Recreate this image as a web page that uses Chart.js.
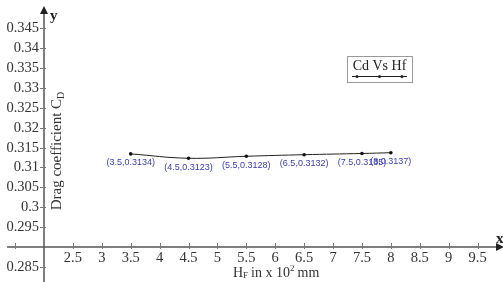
<!DOCTYPE html>
<html><head><meta charset="utf-8">
<script src="https://cdn.jsdelivr.net/npm/chart.js@4.4.1/dist/chart.umd.min.js"></script>
<style>html,body{margin:0;padding:0;background:#fff;}#wrap{width:503px;height:282px;position:relative;}</style>
</head><body><div id="wrap"><canvas id="c"></canvas></div>
<script>
const xValues = [3.5, 4.5, 5.5, 6.5, 7.5, 8];
const cdValues = [0.3134, 0.3123, 0.3128, 0.3132, 0.3135, 0.3137];
const pointLabels = ['(3.5,0.3134)', '(4.5,0.3123)', '(5.5,0.3128)', '(6.5,0.3132)', '(7.5,0.3135)', '(8,0.3137)'];
const xTickLabels = ['2.5','3','3.5','4','4.5','5','5.5','6','6.5','7','7.5','8','8.5','9','9.5'];
const yTickLabels = ['0.285','0.295','0.3','0.305','0.31','0.315','0.32','0.325','0.33','0.335','0.34','0.345'];
const seriesName = 'Cd Vs Hf';
const xTitle = 'H';
const yTitle = 'Drag coefficient C';

const AX = 2, AY = 0.29;

const axesPlugin = {
  id: 'axesPlugin',
  beforeDatasetsDraw(chart) {
    const ctx = chart.ctx, xs = chart.scales.x, ys = chart.scales.y;
    const ox = Math.round(xs.getPixelForValue(AX)), oy = Math.round(ys.getPixelForValue(AY));
    ctx.save();
    ctx.strokeStyle = '#555'; ctx.fillStyle = '#222'; ctx.lineWidth = 1.5;
    // y axis
    ctx.beginPath(); ctx.moveTo(ox, chart.height); ctx.lineTo(ox, 12); ctx.stroke();
    ctx.beginPath(); ctx.moveTo(ox, 6); ctx.lineTo(ox-4, 14); ctx.lineTo(ox+4, 14); ctx.closePath(); ctx.fill();
    // x axis
    ctx.beginPath(); ctx.moveTo(7, oy); ctx.lineTo(chart.width-6, oy); ctx.stroke();
    ctx.beginPath(); ctx.moveTo(chart.width+1, oy); ctx.lineTo(chart.width-7, oy-4); ctx.lineTo(chart.width-7, oy+4); ctx.closePath(); ctx.fill();
    ctx.lineWidth = 1; ctx.strokeStyle = '#777';
    // y ticks
    ctx.font = '14.5px "Liberation Serif"'; ctx.textAlign = 'right'; ctx.textBaseline = 'middle'; ctx.fillStyle = '#333';
    yTickLabels.forEach(t => {
      const py = Math.round(ys.getPixelForValue(parseFloat(t))) + 0.5;
      ctx.beginPath(); ctx.moveTo(ox-4, py); ctx.lineTo(ox+2, py); ctx.stroke();
      ctx.fillText(t, ox-5, py);
    });
    // x ticks
    ctx.textAlign = 'center';
    const tx = [1.5].concat(xTickLabels.map(parseFloat));
    tx.forEach(v => {
      const px = Math.round(xs.getPixelForValue(v)) + 0.5;
      ctx.beginPath(); ctx.moveTo(px, oy-4); ctx.lineTo(px, oy+2); ctx.stroke();
    });
    xTickLabels.forEach(t => {
      const px = xs.getPixelForValue(parseFloat(t));
      ctx.fillText(t, px, oy+11);
    });
    // axis letters
    ctx.font = 'bold 15px "Liberation Serif"'; ctx.fillStyle = '#222';
    ctx.textAlign = 'left';
    ctx.fillText('y', ox+6, 16);
    ctx.fillText('x', chart.width-7, oy-8);
    // x title
    ctx.font = '14px "Liberation Serif"'; ctx.fillStyle = '#333';
    ctx.textAlign = 'left';
    let sx = 233, sy = 273;
    ctx.fillText(xTitle, sx, sy); sx += ctx.measureText(xTitle).width;
    ctx.font = '9px "Liberation Serif"'; ctx.fillText('F', sx, sy+3); sx += ctx.measureText('F').width + 3;
    ctx.font = '14px "Liberation Serif"'; const s1 = 'in x 10'; ctx.fillText(s1, sx, sy); sx += ctx.measureText(s1).width;
    ctx.font = '9px "Liberation Serif"'; ctx.fillText('2', sx, sy-4); sx += ctx.measureText('2').width + 3;
    ctx.font = '14px "Liberation Serif"'; ctx.fillText('mm', sx, sy);
    // y title rotated
    ctx.save();
    ctx.translate(61, 151); ctx.rotate(-Math.PI/2);
    ctx.font = '15px "Liberation Serif"';
    const w1 = ctx.measureText(yTitle).width;
    ctx.font = '10px "Liberation Serif"';
    const w2 = ctx.measureText('D').width;
    let st = -(w1+w2)/2;
    ctx.font = '15px "Liberation Serif"'; ctx.textAlign = 'left'; ctx.textBaseline = 'alphabetic';
    ctx.fillText(yTitle, st, 0);
    ctx.font = '10px "Liberation Serif"'; ctx.fillText('D', st+w1, 3);
    ctx.restore();
    ctx.restore();
  },
  afterDatasetsDraw(chart) {
    const ctx = chart.ctx;
    const meta = chart.getDatasetMeta(0);
    ctx.save();
    ctx.font = '9px "Liberation Sans Narrow", "Liberation Sans"';
    ctx.fillStyle = '#3b3bbd'; ctx.textAlign = 'center'; ctx.textBaseline = 'middle';
    meta.data.forEach((p, i) => { ctx.fillText(pointLabels[i], p.x, p.y + 9); });
    // legend
    const bx = 347, by = 56, bw = 65, bh = 26;
    ctx.fillStyle = '#fff'; ctx.fillRect(bx, by, bw, bh);
    ctx.strokeStyle = '#999'; ctx.lineWidth = 1; ctx.strokeRect(bx+0.5, by+0.5, bw, bh);
    ctx.font = '14px "Liberation Serif"'; ctx.fillStyle = '#222'; ctx.textAlign = 'center';
    ctx.fillText(seriesName, bx + bw/2, by + 10);
    ctx.strokeStyle = '#222';
    ctx.beginPath(); ctx.moveTo(bx+5, by+20.5); ctx.lineTo(bx+bw-5, by+20.5); ctx.stroke();
    [bx+10, bx+bw/2, bx+bw-10].forEach(x => { ctx.beginPath(); ctx.arc(x, by+20.5, 1.5, 0, Math.PI*2); ctx.fill(); });
    ctx.restore();
  }
};

new Chart(document.getElementById('c'), {
  type: 'scatter',
  data: { datasets: [{
    label: seriesName,
    data: xValues.map((x, i) => ({ x: x, y: cdValues[i] })),
    showLine: true, borderColor: '#222', borderWidth: 1, tension: 0.4,
    pointRadius: 1.8, pointHoverRadius: 1.8, pointBackgroundColor: '#111', pointBorderWidth: 0
  }]},
  options: {
    responsive: true, maintainAspectRatio: false, animation: false,
    layout: { padding: 0, autoPadding: false },
    plugins: { legend: { display: false }, tooltip: { enabled: false } },
    scales: {
      x: { type: 'linear', display: false, min: 1.239, max: 9.94 },
      y: { type: 'linear', display: false, min: 0.28123, max: 0.35204 }
    }
  },
  plugins: [axesPlugin]
});
</script></body></html>
